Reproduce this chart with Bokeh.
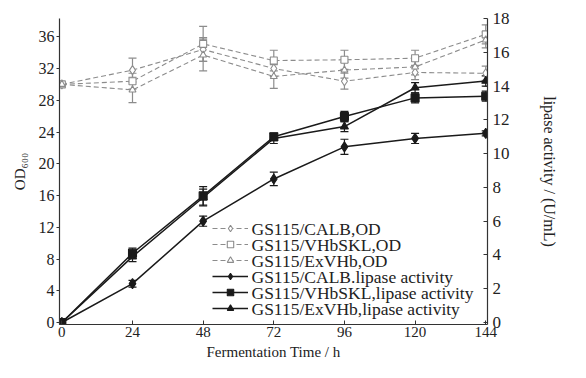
from bokeh.plotting import figure
from bokeh.models import (Range1d, LinearAxis, FixedTicker, Whisker, ColumnDataSource, TeeHead,
                          Legend, LegendItem, Label)
from bokeh.embed import file_html
from bokeh.resources import INLINE

hours = [0, 24, 48, 72, 96, 120, 144]

od_calb = [30.0, 31.8, 34.4, 32.0, 30.4, 31.5, 31.4]
od_vhbskl = [30.0, 30.4, 35.1, 33.0, 33.1, 33.3, 36.3]
od_exvhb = [30.0, 29.3, 33.7, 31.0, 31.8, 32.2, 35.6]
od_calb_err = [0.0, 1.5, 1.5, 1.0, 1.0, 0.9, 0.9]
od_vhbskl_err = [0.0, 1.0, 2.2, 1.3, 1.2, 1.0, 1.2]
od_exvhb_err = [0.0, 1.6, 2.0, 1.5, 1.0, 1.0, 1.0]

lip_calb = [0.0, 2.3, 6.0, 8.5, 10.4, 10.9, 11.2]
lip_vhbskl = [0.0, 4.1, 7.5, 11.0, 12.2, 13.3, 13.4]
lip_exvhb = [0.0, 3.9, 7.4, 10.9, 11.6, 13.9, 14.3]
lip_calb_err = [0.0, 0.2, 0.3, 0.4, 0.45, 0.3, 0.15]
lip_vhbskl_err = [0.0, 0.3, 0.55, 0.2, 0.3, 0.3, 0.3]
lip_exvhb_err = [0.0, 0.3, 0.5, 0.3, 0.3, 0.3, 0.3]

x_ticks = [0, 24, 48, 72, 96, 120, 144]
left_ticks = [0, 4, 8, 12, 16, 20, 24, 28, 32, 36]
right_ticks = [0, 2, 4, 6, 8, 10, 12, 14, 16, 18]

labels = ["GS115/CALB,OD", "GS115/VHbSKL,OD", "GS115/ExVHb,OD",
          "GS115/CALB.lipase activity", "GS115/VHbSKL,lipase activity",
          "GS115/ExVHb,lipase activity"]

FONT = "Liberation Serif"
OD_COL = "#8c8c8c"
LIP_COL = "#1a1a1a"

left_top = 38.3
right_top = 18.0
pad_l = 0.25
pad_r = pad_l * right_top / left_top

p = figure(width=570, height=362, output_backend="svg", toolbar_location=None,
           x_range=Range1d(-0.8, 144.6), y_range=Range1d(-pad_l, left_top),
           min_border_left=59, min_border_right=83, min_border_top=18, min_border_bottom=30)
p.extra_y_ranges = {"right": Range1d(-pad_r, right_top)}
p.outline_line_color = None
p.grid.visible = False
p.background_fill_color = "white"

def style_axis(ax):
    ax.axis_line_color = "#333333"
    ax.axis_line_width = 1.2
    ax.major_tick_line_color = "#333333"
    ax.minor_tick_line_color = None
    ax.major_label_text_font = FONT
    ax.major_label_text_font_size = "16px"
    ax.major_label_text_color = "#222222"
    ax.axis_label_text_font = FONT
    ax.axis_label_text_font_size = "15px"
    ax.axis_label_text_font_style = "normal"
    ax.axis_label_text_color = "#222222"

xa = p.xaxis[0]
xa.ticker = FixedTicker(ticks=x_ticks)
xa.axis_label = "Fermentation Time / h"
style_axis(xa)
xa.major_label_text_font_size = "15px"
xa.axis_label_text_font_size = "15px"
xa.major_tick_in = 4
xa.major_tick_out = 0
xa.major_label_standoff = 2
xa.axis_label_standoff = 4

ya = p.yaxis[0]
ya.ticker = FixedTicker(ticks=left_ticks)
ya.axis_label = "OD₆₀₀"
style_axis(ya)
ya.major_tick_in = 0
ya.major_tick_out = 3
ya.major_label_standoff = 2
ya.axis_label_standoff = 8

ra = LinearAxis(y_range_name="right", ticker=FixedTicker(ticks=right_ticks),
                axis_label="lipase activity / (U/mL)")
style_axis(ra)
ra.major_label_text_font_size = "17px"
ra.axis_label_text_font_size = "16px"
ra.major_tick_in = 4
ra.major_tick_out = 0
ra.major_label_standoff = 5
ra.axis_label_standoff = 28
p.add_layout(ra, "right")

items = []

def add_series(vals, errs, marker, fill, color, dash, lw, size, rng):
    kw = {} if rng is None else {"y_range_name": rng}
    src = ColumnDataSource(dict(x=hours, y=vals,
                                lo=[v - e for v, e in zip(vals, errs)],
                                hi=[v + e for v, e in zip(vals, errs)]))
    w = Whisker(source=src, base="x", upper="hi", lower="lo", line_color=color, line_width=1.2,
                upper_head=TeeHead(size=8, line_color=color, line_width=1.2),
                lower_head=TeeHead(size=8, line_color=color, line_width=1.2), **kw)
    p.add_layout(w)
    ln = p.line("x", "y", source=src, line_color=color, line_width=lw, line_dash=dash, **kw)
    sc = p.scatter("x", "y", source=src, marker=marker, size=size, line_color=color,
                   line_width=1.1, fill_color=fill, **kw)
    items.append(LegendItem(label=" ", renderers=[ln, sc]))

add_series(od_calb, od_calb_err, "diamond", "white", OD_COL, "5 3", 1.1, 9, None)
add_series(od_vhbskl, od_vhbskl_err, "square", "white", OD_COL, "5 3", 1.1, 7, None)
add_series(od_exvhb, od_exvhb_err, "triangle", "white", OD_COL, "5 3", 1.1, 7, None)
add_series(lip_calb, lip_calb_err, "diamond", LIP_COL, LIP_COL, "solid", 1.5, 10, "right")
add_series(lip_vhbskl, lip_vhbskl_err, "square", LIP_COL, LIP_COL, "solid", 1.5, 8, "right")
add_series(lip_exvhb, lip_exvhb_err, "triangle", LIP_COL, LIP_COL, "solid", 1.5, 8, "right")

ROW = 16
LEG_X = 153
LEG_Y = 8
legend = Legend(items=items, location=(LEG_X, LEG_Y), orientation="vertical")
legend.label_text_font_size = "8px"
legend.glyph_width = 36
legend.glyph_height = ROW
legend.label_height = ROW
legend.label_width = 1
legend.spacing = 0
legend.padding = 0
legend.margin = 0
legend.label_standoff = 0
legend.border_line_color = None
legend.background_fill_alpha = 0
p.add_layout(legend, "center")

n = len(labels)
for i, txt in enumerate(labels):
    p.add_layout(Label(x=LEG_X + 39, y=LEG_Y + ROW * (n - i) - ROW / 2,
                       x_units="screen", y_units="screen", text=txt,
                       text_font=FONT, text_font_size="17.5px", text_color="#222222",
                       text_baseline="middle", text_align="left"))

open("out.html", "w").write(file_html(p, INLINE))
